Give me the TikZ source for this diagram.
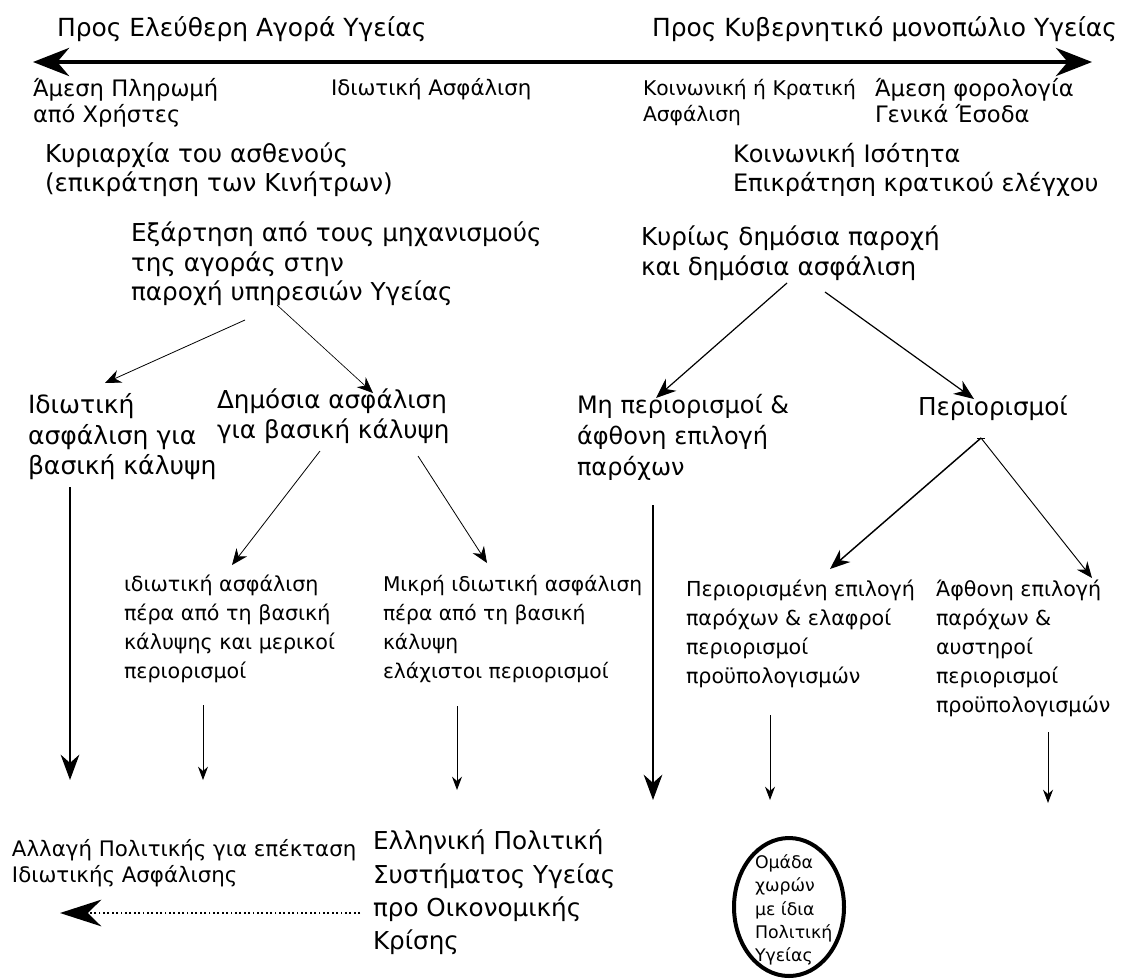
\documentclass[tikz,border=0pt]{standalone}
\usepackage{fontspec}
\setmainfont{DejaVu Sans}
\usetikzlibrary{arrows.meta,shapes.geometric}
\begin{document}
\begin{tikzpicture}[x=0.75pt,y=-0.75pt,
  txt/.style={inner sep=0pt, outer sep=0pt, anchor=north west, align=left},
  big/.style={txt, font=\fontsize{18.5}{22}\selectfont},
  sml/.style={txt, font=\fontsize{15.5}{21.6}\selectfont},
  topsml/.style={txt, font=\fontsize{16}{19.5}\selectfont},
  toparr/.style={line width=3.6pt, {Stealth[length=27pt,width=21pt]}-{Stealth[length=27pt,width=21pt]}},
  bigarr/.style={line width=1.8pt, -{Stealth[length=19pt,width=14pt]}},
  vthin/.style={line width=0.75pt, -{Stealth[length=10pt,width=7.5pt]}},
  diag/.style={line width=0.6pt, -{Stealth[length=12pt,width=10pt]}},
  diagm/.style={line width=0.9pt, -{Stealth[length=15pt,width=12pt]}},
  dotarr/.style={line width=1.3pt, dotted, -{Stealth[length=31pt,width=20pt]}},
  ring/.style={ellipse, draw, line width=3pt, inner sep=0pt, minimum width=82.5pt, minimum height=103.5pt}
]
\fill[white] (0,0) rectangle (1123,978);
\useasboundingbox (0,0) rectangle (1123,978);

% top axis
\node[big, font=\fontsize{18.7}{22}\selectfont] (tl) at (57,16.5) {Προς Ελεύθερη Αγορά Υγείας};
\node[big, font=\fontsize{18.7}{22}\selectfont, anchor=north east] (tr) at (1117,16.5) {Προς Κυβερνητικό μονοπώλιο Υγείας};
\coordinate (lt) at (33,62);
\coordinate (rt) at (1092,62);
\draw[toparr] (lt) -- (rt);

\node[topsml, font=\fontsize{17}{19.5}\selectfont] (ap) at (33,78) {Άμεση Πληρωμή\\από Χρήστες};
\node[topsml] (ia) at (331,78.5) {Ιδιωτική Ασφάλιση};
\node[topsml, font=\fontsize{15.2}{19.5}\selectfont] (kk) at (643,79) {Κοινωνική ή Κρατική\\Ασφάλιση};
\node[topsml, font=\fontsize{17}{19.5}\selectfont] (af) at (875,78) {Άμεση φορολογία\\Γενικά Έσοδα};

\node[big, font=\fontsize{18.5}{21.75}\selectfont] (ky) at (45,143) {Κυριαρχία του ασθενούς\\(επικράτηση των Κινήτρων)};
\node[big, font=\fontsize{18}{21.75}\selectfont] (ki) at (733,143) {Κοινωνική Ισότητα\\Επικράτηση κρατικού ελέγχου};

\node[big] (ex) at (131,222) {Εξάρτηση από τους μηχανισμούς\\της αγοράς στην\\παροχή υπηρεσιών Υγείας};
\node[big, font=\fontsize{18.5}{22.5}\selectfont] (kd) at (641,226) {Κυρίως δημόσια παροχή\\και δημόσια ασφάλιση};

\node[big, font=\fontsize{18.8}{23}\selectfont] (id) at (28,393.5) {Ιδιωτική\\ασφάλιση για\\βασική κάλυψη};
\node[big, font=\fontsize{18.5}{22.5}\selectfont] (da) at (217,389) {Δημόσια ασφάλιση\\για βασική κάλυψη};
\node[big, font=\fontsize{18}{23.5}\selectfont] (mp) at (577,394) {Μη περιορισμοί \&\\άφθονη επιλογή\\παρόχων};
\node[big] (pe) at (918,396) {Περιορισμοί};

\node[sml] (ik) at (124,575.4) {ιδιωτική ασφάλιση\\πέρα από τη βασική\\κάλυψης και μερικοί\\περιορισμοί};
\node[sml, font=\fontsize{15.2}{21.6}\selectfont] (mi) at (383,575.4) {Μικρή ιδιωτική ασφάλιση\\πέρα από τη βασική\\κάλυψη\\ελάχιστοι περιορισμοί};
\node[sml] (pr) at (686,580.4) {Περιορισμένη επιλογή\\παρόχων \& ελαφροί\\περιορισμοί\\προϋπολογισμών};
\node[sml] (at) at (936,580.4) {Άφθονη επιλογή\\παρόχων \&\\αυστηροί\\περιορισμοί\\προϋπολογισμών};

\node[topsml] (al) at (12,839.2) {Αλλαγή Πολιτικής για επέκταση\\Ιδιωτικής Ασφάλισης};
\node[big, font=\fontsize{18.5}{25}\selectfont] (el) at (373,830) {Ελληνική Πολιτική\\Συστήματος Υγείας\\προ Οικονομικής\\Κρίσης};
\node[ring] (rg) at (789,907) {};
\node[txt, font=\fontsize{13}{17.3}\selectfont] (om) at (755,855) {Ομάδα\\χωρών\\με ίδια\\Πολιτική\\Υγείας};

% connector end points
\coordinate (ex-a) at (245,320);
\coordinate (id-a) at (105,383);
\coordinate (ex-b) at (277,305);
\coordinate (da-a) at (373,393);
\coordinate (da-b) at (320,451);
\coordinate (ik-a) at (232,565);
\coordinate (da-c) at (418,456);
\coordinate (mi-a) at (487,563);
\coordinate (kd-a) at (787,283);
\coordinate (mp-a) at (656,398);
\coordinate (kd-b) at (825,292);
\coordinate (pe-a) at (974,399);
\coordinate (pe-j) at (981,438);
\coordinate (pr-a) at (830,569);
\coordinate (at-a) at (1092,578);
\coordinate (id-b) at (70,487);
\coordinate (id-e) at (70,780);
\coordinate (ik-b) at (203,705);
\coordinate (ik-e) at (203,780);
\coordinate (mi-b) at (457,706);
\coordinate (mi-e) at (457,790);
\coordinate (mp-b) at (653,505);
\coordinate (mp-e) at (653,800);
\coordinate (pr-b) at (770,715);
\coordinate (pr-e) at (770,800);
\coordinate (at-b) at (1048,732);
\coordinate (at-e) at (1048,803);
\coordinate (el-a) at (360,913);
\coordinate (al-a) at (60,913);

\draw[diag] (ex-a) -- (id-a);
\draw[diag, line width=0.5pt] (ex-b) -- (da-a);
\draw[diag] (da-b) -- (ik-a);
\draw[diag] (da-c) -- (mi-a);
\draw[diagm] (kd-a) -- (mp-a);
\draw[diagm] (kd-b) -- (pe-a);
\draw[line width=0.6pt] ([xshift=-3pt]pe-j) -- ([xshift=3pt]pe-j);
\draw[diagm, line width=1.1pt] (pe-j) -- (pr-a);
\draw[diag, line width=0.7pt] (pe-j) -- (at-a);
\draw[bigarr] (id-b) -- (id-e);
\draw[bigarr] (mp-b) -- (mp-e);
\draw[vthin] (ik-b) -- (ik-e);
\draw[vthin] (mi-b) -- (mi-e);
\draw[vthin] (pr-b) -- (pr-e);
\draw[vthin] (at-b) -- (at-e);
\draw[dotarr] (el-a) -- (al-a);
\end{tikzpicture}
\end{document}
